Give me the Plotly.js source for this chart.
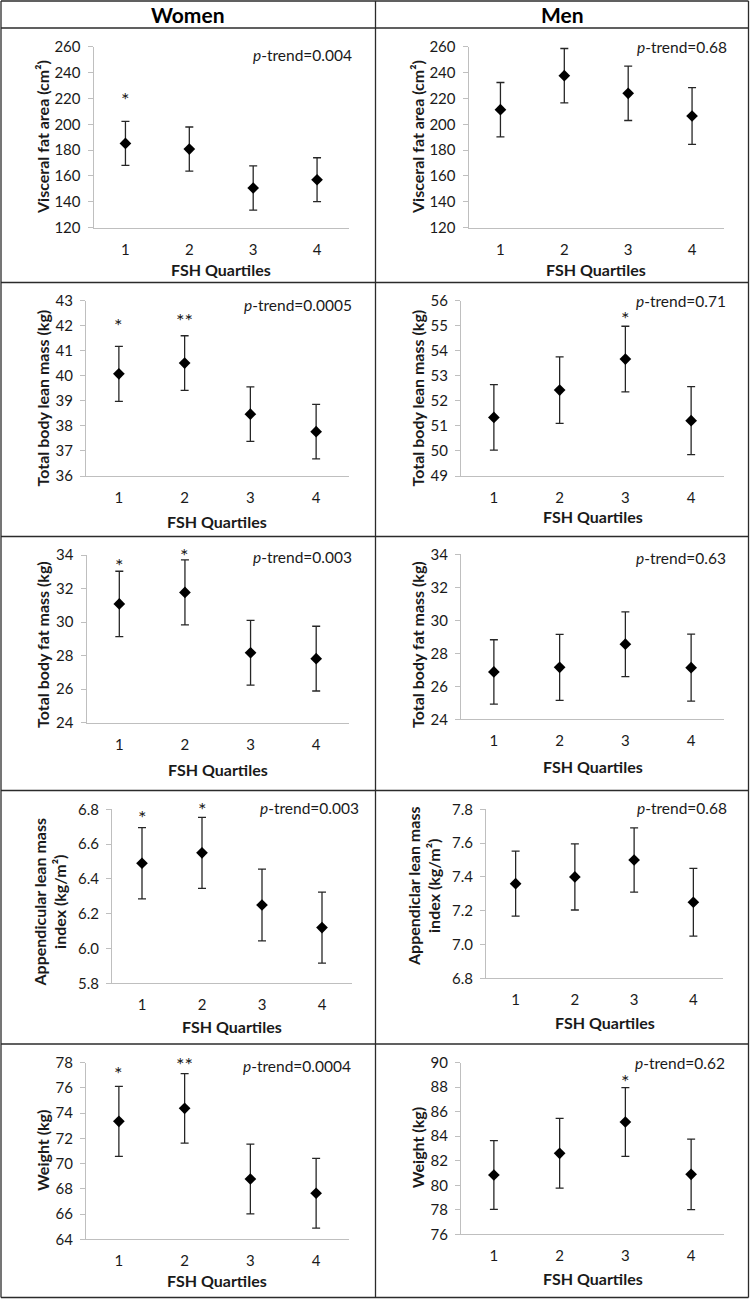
<!DOCTYPE html>
<html><head><meta charset="utf-8">
<script src="https://cdn.plot.ly/plotly-3.0.1.min.js"></script>
<style>html,body{margin:0;padding:0;background:#fff}#chart{width:750px;height:1299px}</style>
</head><body><div id="chart"></div>
<script>
// ---------- DATA ----------
const quartiles = ['1', '2', '3', '4'];
const columnHeaders = ['Women', 'Men'];
const xTitle = 'FSH Quartiles';

// Women
const womenVfa = [185.2, 180.8, 150.7, 157.1];
const womenVfaErr = [17.0, 17.1, 17.1, 17.0];
const womenLean = [40.08, 40.51, 38.47, 37.77];
const womenLeanErr = [1.10, 1.09, 1.09, 1.09];
const womenFat = [31.08, 31.77, 28.17, 27.82];
const womenFatErr = [1.95, 1.94, 1.93, 1.93];
const womenAlmi = [6.49, 6.55, 6.25, 6.12];
const womenAlmiErr = [0.205, 0.204, 0.206, 0.204];
const womenWeight = [73.35, 74.38, 68.78, 67.65];
const womenWeightErr = [2.77, 2.75, 2.77, 2.76];

// Men
const menVfa = [211.3, 237.6, 223.9, 206.4];
const menVfaErr = [21.0, 21.0, 21.0, 22.0];
const menLean = [51.34, 52.43, 53.67, 51.21];
const menLeanErr = [1.31, 1.33, 1.31, 1.36];
const menFat = [26.87, 27.15, 28.55, 27.13];
const menFatErr = [1.95, 2.00, 1.96, 2.03];
const menAlmi = [7.36, 7.40, 7.50, 7.25];
const menAlmiErr = [0.192, 0.196, 0.190, 0.200];
const menWeight = [80.84, 82.61, 85.16, 80.89];
const menWeightErr = [2.80, 2.85, 2.80, 2.88];

// p-trend labels
const pTrendWomen = ['0.004', '0.0005', '0.003', '0.003', '0.0004'];
const pTrendMen = ['0.68', '0.71', '0.63', '0.68', '0.62'];

// significance markers per quartile
const womenVfaStars = ['*', '', '', ''];
const womenLeanStars = ['*', '**', '', ''];
const womenFatStars = ['*', '*', '', ''];
const womenAlmiStars = ['*', '*', '', ''];
const womenWeightStars = ['*', '**', '', ''];
const menVfaStars = ['', '', '', ''];
const menLeanStars = ['', '', '*', ''];
const menFatStars = ['', '', '', ''];
const menAlmiStars = ['', '', '', ''];
const menWeightStars = ['', '', '*', ''];

// y titles
const yTitlesWomen = ['Visceral fat area (cm²)', 'Total body lean mass (kg)', 'Total body fat mass (kg)',
  'Appendicular lean mass<br>index (kg/m²)', 'Weight (kg)'];
const yTitlesMen = ['Visceral fat area (cm²)', 'Total body lean mass (kg)', 'Total body fat mass (kg)',
  'Appendiclar lean mass<br>index (kg/m²)', 'Weight (kg)'];

// ---------- LAYOUT ----------
const W = 750, H = 1299;
const px = x => x / W;
const py = y => 1 - y / H;
const FONT = 'Lato, "Open Sans", sans-serif';
const TXT = '#1a1a1a';

// box: [x0, x1, yTop, yBottom] px; xt: x-title centre y; ytc: y-title centre; pt: p-trend right/centre; gap: star gap above error bar (px)
const panels = [
  {y: womenVfa, e: womenVfaErr, s: womenVfaStars, p: pTrendWomen[0], yt: yTitlesWomen[0], r: [120, 260], d: 20, f: '',
   box: [93.5, 349, 46.7, 227.7], xt: 269, ytc: [42, 137], pt: [354, 55], gap: [26, 0, 0, 0]},
  {y: menVfa, e: menVfaErr, s: menVfaStars, p: pTrendMen[0], yt: yTitlesMen[0], r: [120, 260], d: 20, f: '',
   box: [468.5, 724, 46.7, 227.7], xt: 269, ytc: [417, 137], pt: [729, 47], gap: [0, 0, 0, 0]},
  {y: womenLean, e: womenLeanErr, s: womenLeanStars, p: pTrendWomen[1], yt: yTitlesWomen[1], r: [36, 43], d: 1, f: '',
   box: [86, 349, 300.7, 476], xt: 521.7, ytc: [42, 398.5], pt: [354, 305], gap: [25.5, 20, 0, 0]},
  {y: menLean, e: menLeanErr, s: menLeanStars, p: pTrendMen[1], yt: yTitlesMen[1], r: [49, 56], d: 1, f: '',
   box: [461, 724, 300.7, 476], xt: 516.7, ytc: [417, 398.5], pt: [728.3, 301], gap: [0, 0, 12.3, 0]},
  {y: womenFat, e: womenFatErr, s: womenFatStars, p: pTrendWomen[2], yt: yTitlesWomen[2], r: [24, 34], d: 2, f: '',
   box: [86.5, 349, 555, 722.7], xt: 769, ytc: [42, 645], pt: [354, 556.7], gap: [10, 8.7, 0, 0]},
  {y: menFat, e: menFatErr, s: menFatStars, p: pTrendMen[2], yt: yTitlesMen[2], r: [24, 34], d: 2, f: '',
   box: [461, 724, 554.3, 719.3], xt: 766.7, ytc: [417, 645], pt: [728.3, 558], gap: [0, 0, 0, 0]},
  {y: womenAlmi, e: womenAlmiErr, s: womenAlmiStars, p: pTrendWomen[3], yt: yTitlesWomen[3], r: [5.8, 6.8], d: 0.2, f: '.1f',
   box: [112, 352, 809.3, 983.3], xt: 1026, ytc: [49.5, 903], pt: [360.7, 808], gap: [14.3, 12.7, 0, 0]},
  {y: menAlmi, e: menAlmiErr, s: menAlmiStars, p: pTrendMen[3], yt: yTitlesMen[3], r: [6.8, 7.8], d: 0.2, f: '.1f',
   box: [486, 723, 809.3, 978.3], xt: 1022, ytc: [423.3, 886.7], pt: [729, 808], gap: [0, 0, 0, 0]},
  {y: womenWeight, e: womenWeightErr, s: womenWeightStars, p: pTrendWomen[4], yt: yTitlesWomen[4], r: [64, 78], d: 2, f: '',
   box: [86, 349, 1062.7, 1239.3], xt: 1280, ytc: [42, 1151], pt: [352.7, 1065.7], gap: [17, 13.5, 0, 0]},
  {y: menWeight, e: menWeightErr, s: menWeightStars, p: pTrendMen[4], yt: yTitlesMen[4], r: [76, 90], d: 2, f: '',
   box: [461, 724, 1062.7, 1234.3], xt: 1278, ytc: [417, 1148.3], pt: [726.7, 1063], gap: [0, 0, 10.7, 0]}
];

const traces = [];
const layout = {
  width: W, height: H,
  margin: {l: 0, r: 0, t: 0, b: 0},
  paper_bgcolor: '#ffffff', plot_bgcolor: '#ffffff',
  showlegend: false,
  font: {family: FONT, color: TXT, size: 15},
  annotations: [], shapes: []
};

panels.forEach((pn, i) => {
  const n = i + 1;
  const xa = n === 1 ? 'x' : 'x' + n;
  const ya = n === 1 ? 'y' : 'y' + n;
  traces.push({
    type: 'scatter', mode: 'markers',
    x: quartiles, y: pn.y,
    xaxis: xa, yaxis: ya,
    marker: {symbol: 'diamond', size: 9, color: '#000'},
    error_y: {type: 'data', array: pn.e, visible: true, color: '#262626', thickness: 1.3, width: 4},
    cliponaxis: false, hoverinfo: 'x+y'
  });
  const [x0, x1, yT, yB] = pn.box;
  layout['xaxis' + (n === 1 ? '' : n)] = {
    domain: [px(x0), px(x1)], anchor: ya, type: 'category',
    range: [-0.5, 3.5], showgrid: false, zeroline: false,
    showline: true, linecolor: '#bfbfbf', linewidth: 1,
    ticks: '', ticklabelstandoff: 8,
    tickfont: {family: FONT, size: 15, color: TXT}, fixedrange: true
  };
  layout['yaxis' + (n === 1 ? '' : n)] = {
    domain: [py(yB), py(yT)], anchor: xa,
    range: pn.r, dtick: pn.d, tick0: pn.r[0], tickformat: pn.f,
    showgrid: false, zeroline: false,
    showline: true, linecolor: '#bfbfbf', linewidth: 1,
    ticks: 'outside', ticklen: 5, tickcolor: '#bfbfbf', ticklabelstandoff: 4,
    tickfont: {family: FONT, size: 15, color: TXT}, fixedrange: true
  };
  // x title
  layout.annotations.push({
    xref: 'paper', yref: 'paper', x: px((x0 + x1) / 2), y: py(pn.xt),
    xanchor: 'center', yanchor: 'middle', showarrow: false,
    text: '<b>' + xTitle + '</b>', font: {family: FONT, size: 16, color: TXT}
  });
  // y title
  layout.annotations.push({
    xref: 'paper', yref: 'paper', x: px(pn.ytc[0]), y: py(pn.ytc[1]),
    xanchor: 'center', yanchor: 'middle', showarrow: false, textangle: -90,
    text: '<b>' + pn.yt + '</b>', font: {family: FONT, size: 16, color: TXT}
  });
  // p-trend
  layout.annotations.push({
    xref: 'paper', yref: 'paper', x: px(pn.pt[0]), y: py(pn.pt[1]),
    xanchor: 'right', yanchor: 'middle', showarrow: false,
    text: '<i>p</i>-trend=' + pn.p, font: {family: FONT, size: 15.5, color: TXT}
  });
  // significance stars (x given as category index)
  pn.s.forEach((st, k) => {
    if (!st) return;
    layout.annotations.push({
      xref: xa, yref: ya, x: k, y: pn.y[k] + pn.e[k],
      xanchor: 'center', yanchor: 'middle', yshift: pn.gap[k] - 4, showarrow: false,
      text: st, font: {family: FONT, size: 20, color: TXT}
    });
  });
});

// column headers
columnHeaders.forEach((h, i) => {
  layout.annotations.push({
    xref: 'paper', yref: 'paper', x: px(i === 0 ? 188 : 562), y: py(15),
    xanchor: 'center', yanchor: 'middle', showarrow: false,
    text: '<b>' + h + '</b>', font: {family: FONT, size: 21, color: '#000'}
  });
});

// table borders
const border = {color: '#2b2b2b', width: 1.3};
const hLines = [1, 28, 282.5, 536.5, 790.5, 1044, 1297.5];
hLines.forEach(y => layout.shapes.push({type: 'line', xref: 'paper', yref: 'paper',
  x0: px(1), x1: px(748.5), y0: py(y), y1: py(y), line: border}));
[1, 375.5, 748.5].forEach(x => layout.shapes.push({type: 'line', xref: 'paper', yref: 'paper',
  x0: px(x), x1: px(x), y0: py(1), y1: py(1297.5), line: border}));

Plotly.newPlot('chart', traces, layout, {staticPlot: true, displayModeBar: false});
</script>
</body></html>
